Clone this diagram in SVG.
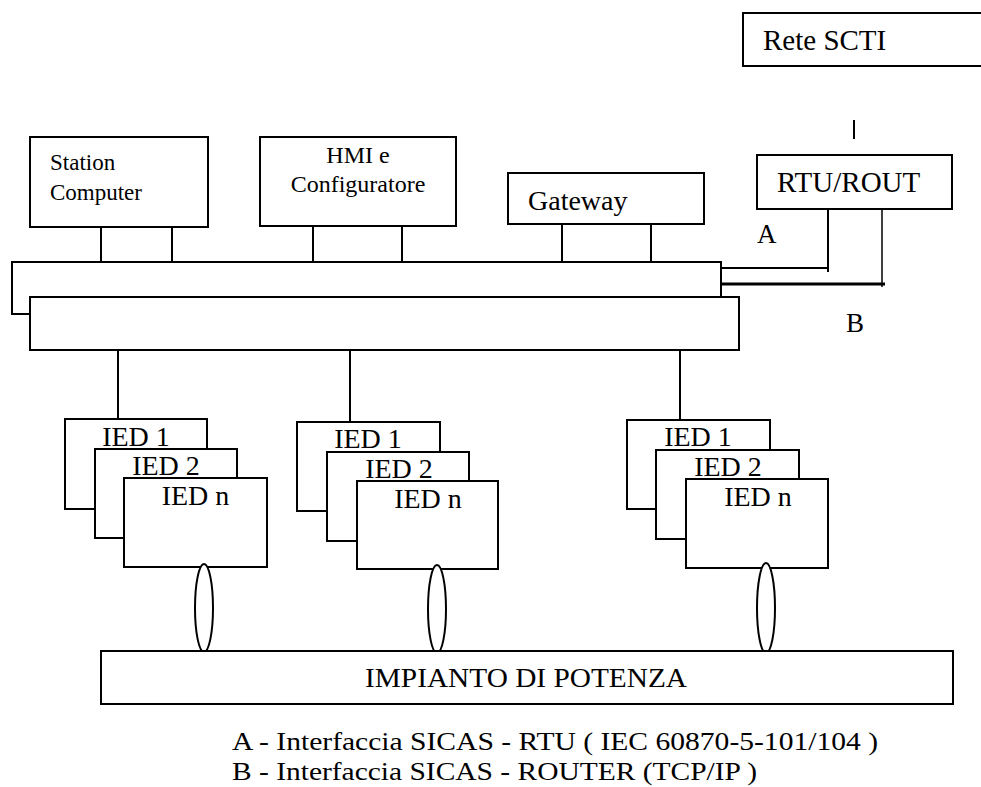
<svg xmlns="http://www.w3.org/2000/svg" width="981" height="787" viewBox="0 0 981 787" font-family="Liberation Serif">
<style>
.box{fill:#fff;stroke:#000;stroke-width:2}
.ln{stroke:#000;stroke-width:2;fill:none}
.ied{font-size:28px;text-anchor:middle}
</style>
<rect width="981" height="787" fill="#fff"/>
<g id="connectors">
<line class="ln" x1="101" y1="227" x2="101" y2="262"/>
<line class="ln" x1="172" y1="227" x2="172" y2="262"/>
<line class="ln" x1="313" y1="226" x2="313" y2="262"/>
<line class="ln" x1="402" y1="226" x2="402" y2="262"/>
<line class="ln" x1="562" y1="224" x2="562" y2="262"/>
<line class="ln" x1="651" y1="224" x2="651" y2="262"/>
<line class="ln" x1="854" y1="120" x2="854" y2="139"/>
<line class="ln" x1="721" y1="268" x2="828" y2="268"/>
<line class="ln" x1="828" y1="209" x2="828" y2="272"/>
<line stroke="#000" stroke-width="3" x1="721" y1="284" x2="885" y2="284"/>
<line stroke="#000" stroke-width="1.5" x1="882" y1="209" x2="882" y2="287"/>
<line class="ln" x1="118" y1="350" x2="118" y2="419"/>
<line class="ln" x1="350" y1="350" x2="350" y2="422"/>
<line class="ln" x1="680" y1="350" x2="680" y2="420"/>
</g>
<g id="bus-upper"><rect class="box" x="12" y="262" width="709" height="52"/></g>
<g id="bus-lower"><rect class="box" x="30" y="297" width="709" height="53"/></g>
<g id="station-computer">
<rect class="box" x="30" y="137" width="178" height="90"/>
<text font-family="Liberation Serif" font-size="23" x="50" y="170">Station</text>
<text font-family="Liberation Serif" font-size="23" x="50" y="200">Computer</text>
</g>
<g id="hmi">
<rect class="box" x="260" y="137" width="196" height="89"/>
<text font-family="Liberation Serif" font-size="24" x="358" y="163" text-anchor="middle">HMI e</text>
<text font-family="Liberation Serif" font-size="24" x="358" y="192" text-anchor="middle">Configuratore</text>
</g>
<g id="gateway">
<rect class="box" x="508" y="173" width="196" height="51"/>
<text font-family="Liberation Serif" font-size="28" x="528" y="210">Gateway</text>
</g>
<g id="rtu-rout">
<rect class="box" x="757" y="155" width="195" height="54"/>
<text font-family="Liberation Serif" font-size="29" x="777" y="192">RTU/ROUT</text>
</g>
<g id="rete-scti">
<rect class="box" x="743" y="13" width="250" height="53"/>
<text font-family="Liberation Serif" font-size="29" x="763" y="50">Rete SCTI</text>
</g>
<g id="label-a"><text font-family="Liberation Serif" font-size="27" x="757" y="243">A</text></g>
<g id="label-b"><text font-family="Liberation Serif" font-size="27" x="846" y="332">B</text></g>
<g id="ied-group-1">
<rect class="box" x="65" y="419" width="142" height="90"/>
<text class="ied" font-family="Liberation Serif" x="136" y="446">IED 1</text>
<rect class="box" x="95" y="449" width="142" height="89"/>
<text class="ied" font-family="Liberation Serif" x="166" y="475">IED 2</text>
<rect class="box" x="124" y="478" width="143" height="89"/>
<text class="ied" font-family="Liberation Serif" x="195.5" y="505">IED n</text>
</g>
<g id="ied-group-2">
<rect class="box" x="297" y="422" width="143" height="89"/>
<text class="ied" font-family="Liberation Serif" x="368" y="448">IED 1</text>
<rect class="box" x="327" y="452" width="142" height="89"/>
<text class="ied" font-family="Liberation Serif" x="399" y="478">IED 2</text>
<rect class="box" x="357" y="481" width="141" height="88"/>
<text class="ied" font-family="Liberation Serif" x="428" y="508">IED n</text>
</g>
<g id="ied-group-3">
<rect class="box" x="627" y="420" width="143" height="89"/>
<text class="ied" font-family="Liberation Serif" x="698" y="446">IED 1</text>
<rect class="box" x="656" y="450" width="143" height="89"/>
<text class="ied" font-family="Liberation Serif" x="728" y="476">IED 2</text>
<rect class="box" x="686" y="479" width="142" height="89"/>
<text class="ied" font-family="Liberation Serif" x="758" y="506">IED n</text>
</g>
<g id="links">
<ellipse class="box" cx="204" cy="608" rx="9" ry="44"/>
<ellipse class="box" cx="437" cy="609" rx="9" ry="44"/>
<ellipse class="box" cx="766" cy="608" rx="9" ry="45"/>
</g>
<g id="impianto">
<rect class="box" x="101" y="651" width="852" height="53"/>
<text font-family="Liberation Serif" font-size="28" x="365" y="687" textLength="322" lengthAdjust="spacingAndGlyphs">IMPIANTO DI POTENZA</text>
</g>
<g id="legend">
<text font-family="Liberation Serif" font-size="25" x="232" y="750" textLength="646" lengthAdjust="spacingAndGlyphs">A - Interfaccia SICAS - RTU ( IEC 60870-5-101/104 )</text>
<text font-family="Liberation Serif" font-size="25" x="232" y="780" textLength="525" lengthAdjust="spacingAndGlyphs">B - Interfaccia SICAS - ROUTER (TCP/IP )</text>
</g>
</svg>
